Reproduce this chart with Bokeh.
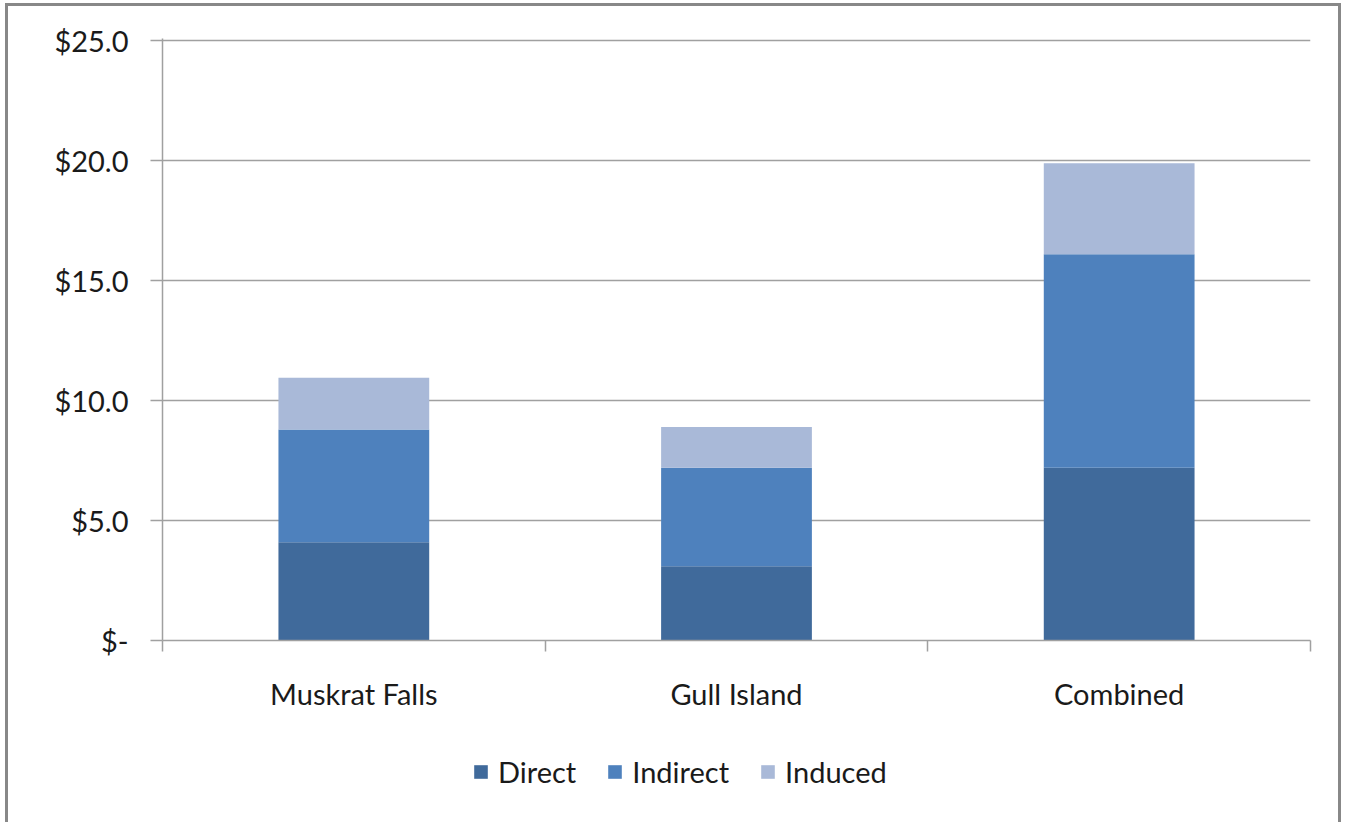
from bokeh.plotting import figure
from bokeh.models import (ColumnDataSource, Range1d, FixedTicker, LinearAxis,
                          Legend, Grid)
from bokeh.layouts import column
from bokeh.embed import file_html
from bokeh.resources import INLINE

categories = ["Muskrat Falls", "Gull Island", "Combined"]
series = ["Direct", "Indirect", "Induced"]
direct = [4.1, 3.1, 7.2]
indirect = [4.7, 4.1, 8.9]
induced = [2.15, 1.7, 3.8]
colors = ["#406A9B", "#4E81BD", "#A9B9D8"]
y_ticks = [0, 5, 10, 15, 20, 25]
y_labels = ["$-", "$5.0", "$10.0", "$15.0", "$20.0", "$25.0"]

FONT = "Lato"
FS = "29px"
xpos = [i + 0.5 for i in range(len(categories))]
src = ColumnDataSource(dict(x=xpos, Direct=direct, Indirect=indirect, Induced=induced))

p = figure(width=1330, height=710, output_backend="svg", toolbar_location=None,
           x_range=Range1d(0, len(categories)), y_range=Range1d(0, 25.1),
           x_axis_location=None, y_axis_location=None)
p.min_border_left = 154
p.min_border_right = 28
p.min_border_top = 32
p.min_border_bottom = 76
p.outline_line_color = None
p.background_fill_color = "white"
p.border_fill_color = "white"

renderers = p.vbar_stack(series, x="x", width=0.394, source=src, color=colors,
                         line_color=None)

# y axis
yax = LinearAxis(ticker=FixedTicker(ticks=y_ticks),
                 major_label_overrides={t: l for t, l in zip(y_ticks, y_labels)})
yax.axis_line_color = "#A0A0A0"
yax.axis_line_width = 1.5
yax.major_tick_line_color = "#A0A0A0"
yax.major_tick_line_width = 1.5
yax.major_tick_out = 12
yax.major_tick_in = 0
yax.minor_tick_line_color = None
yax.major_label_standoff = 22
yax.major_label_text_font = FONT
yax.major_label_text_font_size = FS
yax.major_label_text_color = "#1a1a1a"
p.add_layout(yax, "left")

# x axis: labels at centres, ticks at boundaries (minor ticks)
xax = LinearAxis(ticker=FixedTicker(ticks=xpos, minor_ticks=list(range(len(categories) + 1))),
                 major_label_overrides={x: c for x, c in zip(xpos, categories)})
xax.axis_line_color = "#A0A0A0"
xax.axis_line_width = 1.5
xax.major_tick_line_color = None
xax.minor_tick_line_color = "#A0A0A0"
xax.minor_tick_line_width = 1.5
xax.minor_tick_out = 11
xax.minor_tick_in = 0
xax.major_label_standoff = 24
xax.major_label_text_font = FONT
xax.major_label_text_font_size = FS
xax.major_label_text_color = "#1a1a1a"
p.add_layout(xax, "below")

p.ygrid.visible = False
p.xgrid.visible = False
g = Grid(dimension=1, ticker=FixedTicker(ticks=y_ticks[1:]))
g.grid_line_color = "#A0A0A0"
g.grid_line_width = 1.5
p.add_layout(g)

# legend strip (separate figure so the legend is not clipped to the bar frame);
# its renderers share the data but lie far outside its visible ranges
lf = figure(width=1330, height=106, output_backend="svg", toolbar_location=None,
            x_range=Range1d(100, 103), y_range=Range1d(100, 101),
            x_axis_location=None, y_axis_location=None)
lf.min_border = 0
lf.outline_line_color = None
lf.xgrid.visible = False
lf.ygrid.visible = False
lf.border_fill_color = "white"
leg_rs = lf.vbar_stack(series, x="x", width=0.394, source=src, color=colors,
                       line_color=None)
legend = Legend(items=[(s, [r]) for s, r in zip(series, leg_rs)],
                orientation="horizontal", location=(310, 33))
legend.label_text_font = FONT
legend.label_text_font_size = FS
legend.label_text_color = "#1a1a1a"
legend.glyph_width = 17
legend.glyph_height = 17
legend.label_standoff = 9
legend.spacing = 30
legend.padding = 0
legend.margin = 0
legend.border_line_color = None
legend.background_fill_alpha = 0
lf.add_layout(legend, "center")

layout = column(p, lf, spacing=0,
                styles={"border": "3px solid #888888", "margin-left": "5px",
                        "margin-top": "3px"})

open("out.html", "w").write(file_html(layout, INLINE))
